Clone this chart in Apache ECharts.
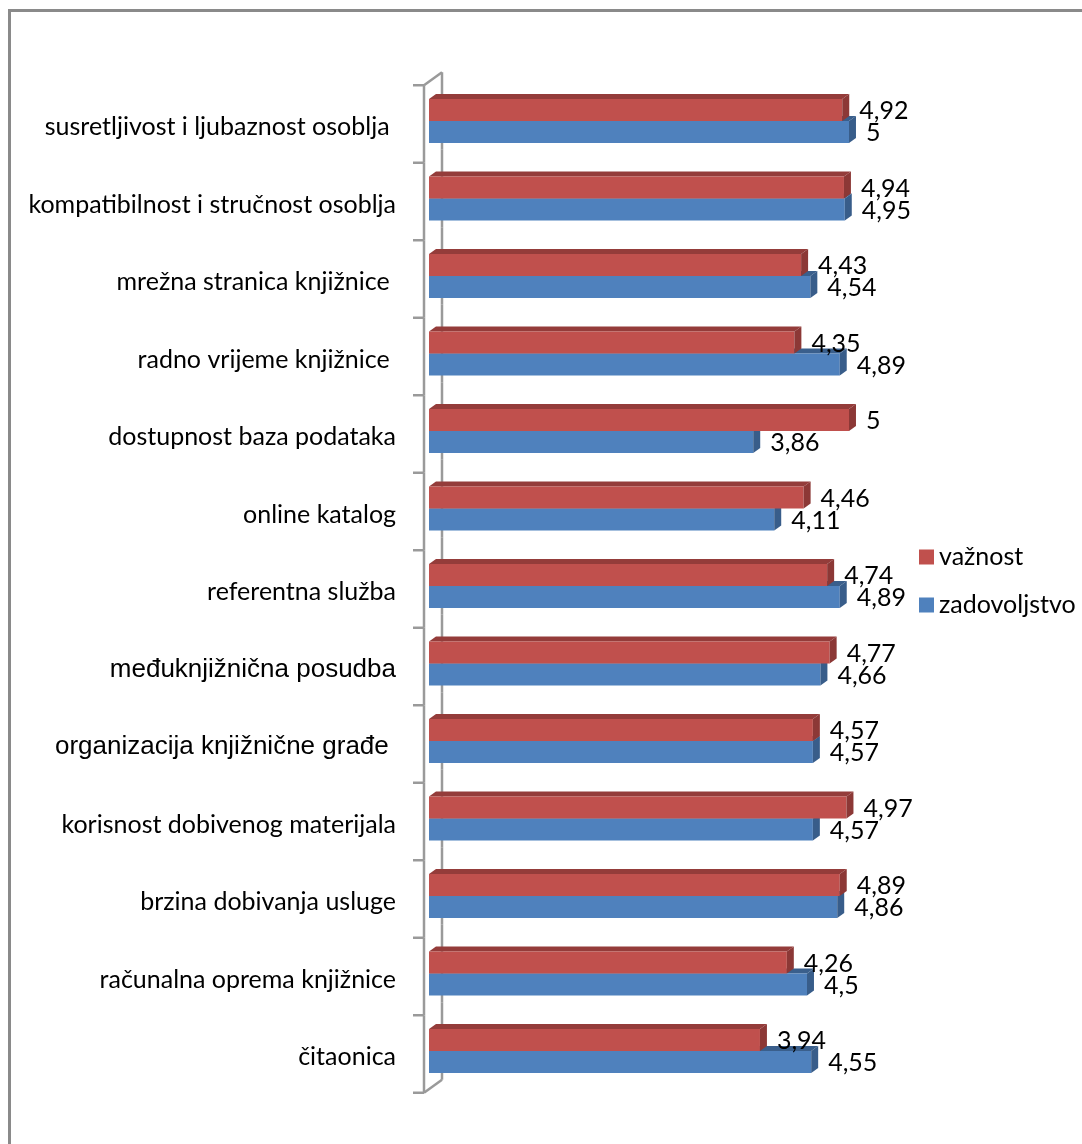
<!DOCTYPE html>
<html>
<head>
<meta charset="utf-8">
<script src="https://cdn.jsdelivr.net/npm/echarts@6/dist/echarts.min.js"></script>
<style>
  html, body { margin: 0; padding: 0; background: #fff; overflow: hidden; }
  #frame { position: absolute; left: 8px; top: 9px; width: 2000px; height: 2000px;
           border-left: 3px solid #8a8a8a; border-top: 3px solid #8a8a8a; }
  #chart { position: absolute; left: 0; top: 0; width: 1082px; height: 1144px; }
</style>
</head>
<body>
<div id="frame"></div>
<div id="chart"></div>
<script>
const categories = [
  'susretljivost i ljubaznost osoblja ',
  'kompatibilnost i stručnost osoblja',
  'mrežna stranica knjižnice ',
  'radno vrijeme knjižnice ',
  'dostupnost baza podataka',
  'online katalog',
  'referentna služba',
  'međuknjižnična posudba',
  'organizacija knjižnične građe ',
  'korisnost dobivenog materijala',
  'brzina dobivanja usluge',
  'računalna oprema knjižnice',
  'čitaonica'
];
const arialLabels = ['međuknjižnična posudba', 'organizacija knjižnične građe '];
const vaznost = [4.92, 4.94, 4.43, 4.35, 5, 4.46, 4.74, 4.77, 4.57, 4.97, 4.89, 4.26, 3.94];
const zadovoljstvo = [5, 4.95, 4.54, 4.89, 3.86, 4.11, 4.89, 4.66, 4.57, 4.57, 4.86, 4.5, 4.55];
const seriesNames = ['važnost', 'zadovoljstvo'];

const FONT = 'Lato';
const FS = 25;

function fmt(v) { return String(v).replace('.', ','); }

function bar3d(which, face, top, side) {
  return function (params, api) {
    const v = api.value(0), c = api.value(1);
    const p0 = api.coord([0, c]);
    const pe = api.coord([v, c]);
    const band = api.size([0, 1])[1];
    const h = band * 0.285, dx = band * 0.09, dy = -band * 0.065;
    const x0 = p0[0], xe = pe[0], yc = p0[1];
    const yT = which === 0 ? yc - h : yc;
    const yB = yT + h;
    return {
      type: 'group',
      children: [
        { type: 'polygon', shape: { points: [[x0, yT], [x0 + dx, yT + dy], [xe + dx, yT + dy], [xe, yT]] },
          style: { fill: top } },
        { type: 'rect', shape: { x: x0, y: yT, width: xe - x0, height: h }, style: { fill: face } },
        { type: 'polygon', shape: { points: [[xe, yT], [xe + dx, yT + dy], [xe + dx, yB + dy], [xe, yB]] },
          style: { fill: side } },
        { type: 'text', x: xe + dx + 10, y: (yT + yB) / 2 + 1,
          style: { text: fmt(v), fill: '#000', font: FS + 'px ' + FONT, textVerticalAlign: 'middle', textAlign: 'left' } }
      ]
    };
  };
}

function wall(params, api) {
  const c = api.value(1);
  const p = api.coord([0, c]);
  const band = api.size([0, 1])[1];
  const x0 = p[0];
  const fx = x0 - 5, bx = x0 + 13;
  const t = p[1] - band / 2, b = p[1] + band / 2;
  const st = { stroke: '#9a9a9a', lineWidth: 2.5 };
  const ch = [
    { type: 'line', shape: { x1: fx, y1: t + 3, x2: fx, y2: b + 3 }, style: st },
    { type: 'line', shape: { x1: bx, y1: t - 10, x2: bx, y2: b - 10 }, style: st },
    { type: 'line', shape: { x1: fx - 11, y1: t + 3, x2: fx, y2: t + 3 }, style: st }
  ];
  if (c === 0) ch.push({ type: 'line', shape: { x1: fx, y1: t + 3, x2: bx, y2: t - 10 }, style: st });
  if (c === categories.length - 1) {
    ch.push({ type: 'line', shape: { x1: fx - 11, y1: b + 3, x2: fx, y2: b + 3 }, style: st });
    ch.push({ type: 'line', shape: { x1: fx, y1: b + 3, x2: bx, y2: b - 10 }, style: st });
  }
  return { type: 'group', children: ch };
}

const chart = echarts.init(document.getElementById('chart'), null, { renderer: 'canvas' });
chart.setOption({
  backgroundColor: 'transparent',
  animation: false,
  grid: { left: 429, top: 82.25, width: 420, height: 1007.5 },
  xAxis: { type: 'value', min: 0, max: 5, show: false },
  yAxis: {
    type: 'category', data: categories, inverse: true,
    axisLine: { show: false }, axisTick: { show: false }, splitLine: { show: false },
    axisLabel: {
      margin: 33,
      padding: [12, 0, 0, 0],
      formatter: function (val) {
        return (arialLabels.indexOf(val) >= 0 ? '{a|' : '{c|') + val + '}';
      },
      rich: {
        c: { fontFamily: FONT, fontSize: FS, color: '#000' },
        a: { fontFamily: 'Liberation Sans', fontSize: 26, color: '#000' }
      }
    }
  },
  legend: {
    data: seriesNames, orient: 'vertical', left: 914, top: 539,
    icon: 'rect', itemWidth: 15, itemHeight: 15, itemGap: 22,
    textStyle: { fontFamily: FONT, fontSize: FS, color: '#000', lineHeight: 26 }
  },
  series: [
    { type: 'custom', name: 'wall', silent: true, renderItem: wall,
      data: categories.map((c, i) => [0, i]), encode: { x: 0, y: 1 } },
    { type: 'custom', name: seriesNames[1], itemStyle: { color: '#4F81BD' },
      renderItem: bar3d(1, '#4F81BD', '#3A5F8C', '#385D8A'),
      data: zadovoljstvo.map((v, i) => [v, i]), encode: { x: 0, y: 1 } },
    { type: 'custom', name: seriesNames[0], itemStyle: { color: '#C0504D' },
      renderItem: bar3d(0, '#C0504D', '#943C3A', '#8C3836'),
      data: vaznost.map((v, i) => [v, i]), encode: { x: 0, y: 1 } }
  ]
});
</script>
</body>
</html>
